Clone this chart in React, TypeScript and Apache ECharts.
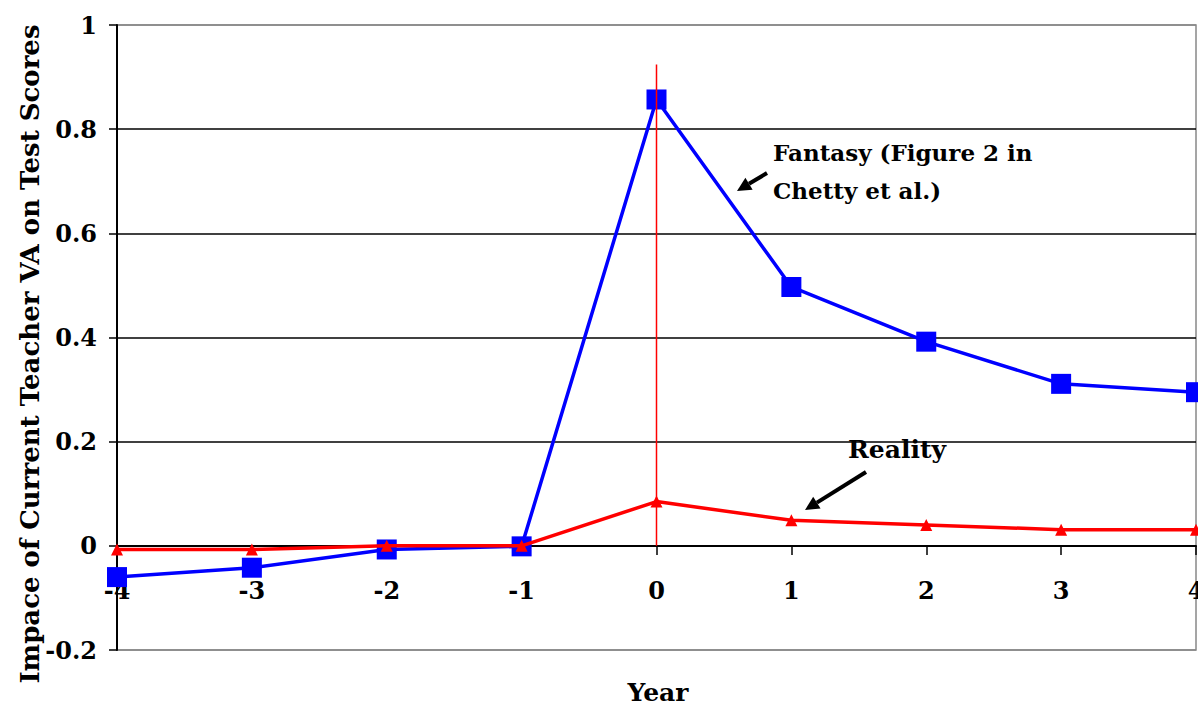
import React, { useEffect, useRef } from "react";
import * as echarts from "echarts";

const years = [-4, -3, -2, -1, 0, 1, 2, 3, 4];
const fantasy = [-0.06, -0.042, -0.007, -0.001, 0.857, 0.497, 0.392, 0.311, 0.295];
const reality = [-0.007, -0.007, 0, 0, 0.085, 0.049, 0.04, 0.031, 0.031];
const markerLine = [[0, 0], [0, 0.924]];
const yTitle = "Impace of Current Teacher VA on Test Scores";
const xTitle = "Year";
const fantasyLabel = ["Fantasy (Figure 2 in", "Chetty et al.)"];
const realityLabel = "Reality";

const FONT = "DejaVu Serif";

function arrow(x1: number, y1: number, x2: number, y2: number) {
  const ang = Math.atan2(y2 - y1, x2 - x1);
  const hl = 14, hw = 7;
  const bx = x2 - hl * Math.cos(ang), by = y2 - hl * Math.sin(ang);
  const px = -Math.sin(ang) * hw, py = Math.cos(ang) * hw;
  return [
    { type: "line", shape: { x1, y1, x2: bx, y2: by }, style: { stroke: "#000", lineWidth: 4 } },
    {
      type: "polygon",
      shape: { points: [[x2, y2], [bx + px, by + py], [bx - px, by - py]] },
      style: { fill: "#000" },
    },
  ];
}

export default function App() {
  const ref = useRef<HTMLDivElement>(null);
  useEffect(() => {
    if (!ref.current) return;
    const chart = echarts.init(ref.current, null, { renderer: "svg" });
    chart.setOption({
      animation: false,
      backgroundColor: "#fff",
      grid: {
        left: 117, right: 2, top: 25, bottom: 56,
        outerBoundsMode: "none", containLabel: false,
        show: true, borderColor: "#888", borderWidth: 1.5, backgroundColor: "transparent",
      },
      xAxis: {
        type: "value", min: -4, max: 4, interval: 1,
        offset: -104,
        axisLine: { onZero: false, lineStyle: { color: "#000", width: 2 } },
        axisTick: { show: true, inside: false, length: 9, lineStyle: { color: "#000", width: 1.5 } },
        axisLabel: { color: "#000", fontFamily: FONT, fontWeight: "bold", fontSize: 24, margin: 32 },
        splitLine: { show: false },
      },
      yAxis: {
        type: "value", min: -0.2, max: 1, interval: 0.2,
        axisLine: { show: true, onZero: false, lineStyle: { color: "#000", width: 2 } },
        axisTick: { show: true, inside: false, length: 8, lineStyle: { color: "#000", width: 1.5 } },
        axisLabel: {
          color: "#000", fontFamily: FONT, fontWeight: "bold", fontSize: 24, margin: 20,
          formatter: (v: number) => String(Math.round(v * 10) / 10),
        },
        splitLine: {
          show: true,
          lineStyle: { color: ["#888", "#000", "#000", "#000", "#000", "#000", "#888"], width: 1.5 },
        },
      },
      series: [
        {
          type: "line",
          data: years.map((x, i) => [x, fantasy[i]]),
          symbol: "rect", symbolSize: 20,
          lineStyle: { color: "#0000ff", width: 3.5 },
          itemStyle: { color: "#0000ff" },
          clip: false, z: 3,
        },
        {
          type: "line",
          data: years.map((x, i) => [x, reality[i]]),
          symbol: "triangle", symbolSize: 12,
          lineStyle: { color: "#ff0000", width: 3.5 },
          itemStyle: { color: "#ff0000" },
          clip: false, z: 4,
        },
        {
          type: "line",
          data: markerLine,
          symbol: "none",
          lineStyle: { color: "#ff0000", width: 1.5 },
          z: 5,
        },
      ],
      graphic: [
        {
          type: "text", x: 30, y: 354, rotation: Math.PI / 2,
          style: { text: yTitle, fontFamily: FONT, fontWeight: "bold", fontSize: 26, fill: "#000", align: "center", verticalAlign: "middle" },
        },
        {
          type: "text", x: 658, y: 692,
          style: { text: xTitle, fontFamily: FONT, fontWeight: "bold", fontSize: 25, fill: "#000", align: "center", verticalAlign: "middle" },
        },
        {
          type: "text", x: 773, y: 152,
          style: { text: fantasyLabel[0], fontFamily: FONT, fontWeight: "bold", fontSize: 23, fill: "#000", align: "left", verticalAlign: "middle" },
        },
        {
          type: "text", x: 773, y: 190,
          style: { text: fantasyLabel[1], fontFamily: FONT, fontWeight: "bold", fontSize: 23, fill: "#000", align: "left", verticalAlign: "middle" },
        },
        {
          type: "text", x: 848, y: 449,
          style: { text: realityLabel, fontFamily: FONT, fontWeight: "bold", fontSize: 25, fill: "#000", align: "left", verticalAlign: "middle" },
        },
        ...arrow(767, 173, 737, 191),
        ...arrow(866, 472, 805, 510),
      ],
    });
    return () => chart.dispose();
  }, []);
  return <div ref={ref} style={{ position: "absolute", left: 0, top: 0, width: 1198, height: 706 }} />;
}
